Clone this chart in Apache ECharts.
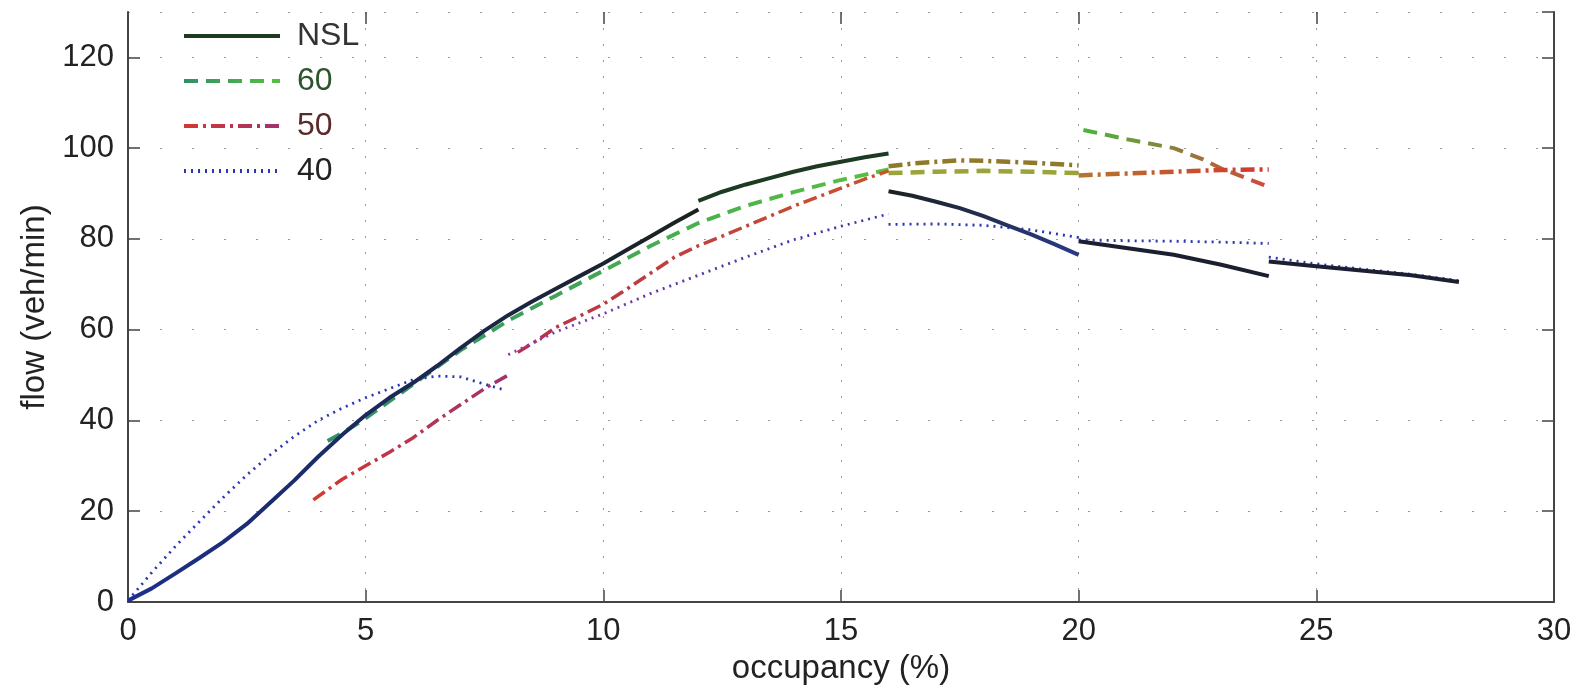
<!DOCTYPE html>
<html>
<head>
<meta charset="utf-8">
<script src="https://cdn.jsdelivr.net/npm/echarts@6/dist/echarts.min.js"></script>
<style>
html,body{margin:0;padding:0;background:#fff;}
#c{width:1582px;height:694px;}
</style>
</head>
<body>
<div id="c"></div>
<script>
// ---- data (occupancy %, flow veh/min) ----
const xTicks = [0, 5, 10, 15, 20, 25, 30];
const yTicks = [0, 20, 40, 60, 80, 100, 120];
const legendNames = ['NSL', '60', '50', '40'];

const nslSeg1 = [[0,0.3],[0.5,3],[1,6.3],[1.5,9.7],[2,13.2],[2.5,17.2],[3,22],[3.5,26.8],[4,32],[4.5,36.8],[5,41.2],[5.5,45],[6,48.3],[6.5,52],[7,56],[7.5,59.8],[8,63.2],[8.5,66.2],[9,69],[9.5,71.8],[10,74.6],[10.5,77.6],[11,80.6],[11.5,83.6],[12,86.5]];
const nslSeg2 = [[12,88.4],[12.5,90.4],[13,92],[13.5,93.4],[14,94.8],[14.5,96],[15,97],[15.5,98],[16,98.8]];
const nslSeg3 = [[16,90.5],[16.5,89.5],[17,88.2],[17.5,86.8],[18,85],[18.5,83],[19,81],[19.5,78.8],[20,76.5]];
const nslSeg4 = [[20,79.5],[21,78],[22,76.5],[23,74.3],[24,71.8]];
const nslSeg5 = [[24,75],[25,74],[26,73],[27,72],[28,70.5]];

const s60Seg1 = [[4.2,35.5],[4.6,37.8],[5,40.5],[6,48],[7,55.5],[8,62],[9,67.5],[10,73],[11,78.5],[12,83.5],[13,87.3],[14,90.3],[15,93],[16,95.3]];
const s60Seg2 = [[16,94.5],[17,94.8],[18,95],[19,94.8],[20,94.5]];
const s60Seg3 = [[20.1,104],[21,102],[22,100],[22.6,97.6],[23,95.5],[23.5,93.5],[24,91.5]];

const s50Seg1 = [[3.9,22.5],[4.5,27],[5,30],[5.5,33],[6,36.2],[6.5,40],[7,43.5],[7.5,47],[8,50]];
const s50Seg2 = [[8.2,55],[8.6,57.6],[9,60.5],[9.5,63],[10,65.6],[10.5,69],[11,72.5],[11.5,76],[12,78.5],[12.5,80.6],[13,82.8],[13.5,85],[14,87.2],[14.5,89.2],[15,91.2],[15.5,93.2],[16,95]];
const s50Seg3 = [[16,96],[16.5,96.6],[17,97],[17.5,97.3],[18,97.2],[18.5,97],[19,96.8],[19.5,96.5],[20,96.2]];
const s50Seg4 = [[20,94],[21,94.4],[22,94.8],[23,95.2],[24,95.3]];

const s40Seg1 = [[0,0.3],[0.5,6.5],[1,12.3],[1.5,17.7],[2,23],[2.5,28],[3,32.5],[3.5,36.5],[4,40],[4.5,42.7],[5,45],[5.5,47],[6,49],[6.5,49.8],[7,49.6],[7.5,48],[7.9,46.8]];
const s40Seg2 = [[8,54.5],[9,59.5],[10,63.5],[11,68],[12,72],[13,76],[14,79.8],[15,82.8],[16,85.5]];
const s40Seg3 = [[16,83.2],[17,83.3],[18,83],[19,82],[20,80.3]];
const s40Seg4 = [[20,79.8],[21,79.6],[22,79.5],[23,79.3],[24,79]];
const s40Seg5 = [[24,76],[25,74.5],[26,73.3],[27,72.2],[28,70.8]];

// ---- styles ----
const FONT = 'Liberation Sans, Arial, sans-serif';
const DASH60 = [14, 8];
const DASHDOT50 = [14, 5, 3, 5];
const DOT40 = [2, 5];
const legendTextColors = {'NSL':'#333333', '60':'#2d552d', '50':'#5a2a2a', '40':'#222222'};

function grad(c1, c2) {
  return {type:'linear', x:0, y:0, x2:1, y2:0, colorStops:[{offset:0,color:c1},{offset:1,color:c2}]};
}
function seg(name, data, color, type, width) {
  return {
    type:'line', name:name, data:data, symbol:'none', showSymbol:false,
    lineStyle:{color:color, type:type, width:width},
    itemStyle:{color: typeof color === 'string' ? color : '#000'},
    silent:true, animation:false, z:2
  };
}

const series = [
  seg('NSL', nslSeg2, '#1d3a22', 'solid', 4),
  seg('60', s60Seg1, grad('#2f8f6a', '#56c23e'), DASH60, 4),
  seg('50', s50Seg1, grad('#d43a2e', '#a03070'), DASHDOT50, 3.5),
  seg('40', s40Seg1, '#2b36b2', DOT40, 2.8),
  seg('60', s60Seg2, '#9aa438', DASH60, 4.5),
  seg('60', s60Seg3, grad('#45b83a', '#d8453a'), DASH60, 4),
  seg('50', s50Seg2, grad('#b8304a', '#c9552d'), DASHDOT50, 3.5),
  seg('50', s50Seg3, '#8f7a2c', DASHDOT50, 4.5),
  seg('50', s50Seg4, grad('#b5762e', '#d6352d'), DASHDOT50, 4.5),
  seg('40', s40Seg2, grad('#8a3aa8', '#2b36b2'), DOT40, 2.8),
  seg('40', s40Seg3, '#2b36b2', DOT40, 2.8),
  seg('40', s40Seg4, '#2b36b2', DOT40, 2.8),
  seg('40', s40Seg5, '#2b36b2', DOT40, 2.8),
  seg('NSL', nslSeg1, grad('#1d2f8c', '#1b221c'), 'solid', 4),
  seg('NSL', nslSeg3, grad('#1b221c', '#2a3a8a'), 'solid', 4),
  seg('NSL', nslSeg4, '#1b1f30', 'solid', 4),
  seg('NSL', nslSeg5, '#1b1f30', 'solid', 4)
];
series.forEach(s => { s.z = s.name === 'NSL' ? 7 : 2; });

const AX_COLOR = '#444';
const axisCommon = {
  min: 0,
  axisLine: {show:true, onZero:false, lineStyle:{color:AX_COLOR, width:2}},
  axisTick: {show:true, inside:true, length:12, lineStyle:{color:AX_COLOR, width:1.5}}
};
const labelStyle = {fontFamily:FONT, fontSize:31, color:'#222'};
const nameStyle = {fontFamily:FONT, fontSize:33, color:'#222'};

const chart = echarts.init(document.getElementById('c'), null, {renderer:'canvas'});
chart.setOption({
  backgroundColor:'#ffffff',
  animation:false,
  grid:{left:128, right:28, top:12, bottom:92, containLabel:false},
  legend:{
    data: legendNames.map(n => ({name:n, textStyle:{color:legendTextColors[n]}})),
    orient:'vertical', left:177, top:15,
    itemWidth:96, itemHeight:14, itemGap:13,
    itemStyle:{opacity:0},
    lineStyle:{width:4},
    textStyle:{fontFamily:FONT, fontSize:32, color:'#222', padding:[0,0,0,12]},
    selectedMode:false
  },
  xAxis:[
    Object.assign({}, axisCommon, {
      type:'value', max:30, interval:5, position:'bottom',
      name:'occupancy (%)', nameLocation:'middle', nameGap:50,
      nameTextStyle:nameStyle,
      axisLabel:Object.assign({margin:14, formatter: v => xTicks.indexOf(v) >= 0 ? String(v) : ''}, labelStyle),
      splitLine:{show:true, lineStyle:{color:'#999', type:[2,14], width:1}}
    }),
    Object.assign({}, axisCommon, {
      type:'value', max:30, interval:5, position:'top',
      axisLine:{show:false, onZero:false},
      axisLabel:{show:false}, splitLine:{show:false}
    })
  ],
  yAxis:[
    Object.assign({}, axisCommon, {
      type:'value', max:130, interval:20, position:'left',
      name:'flow (veh/min)', nameLocation:'middle', nameGap:75, nameRotate:90,
      nameTextStyle:nameStyle,
      axisLabel:Object.assign({margin:14, showMaxLabel:false, formatter: v => yTicks.indexOf(v) >= 0 ? String(v) : ''}, labelStyle),
      splitLine:{show:true, lineStyle:{color:'#999', type:[2,30], width:1.2}}
    }),
    Object.assign({}, axisCommon, {
      type:'value', max:130, interval:20, position:'right',
      axisLabel:{show:false}, splitLine:{show:false}
    })
  ],
  series: series
});
</script>
</body>
</html>
